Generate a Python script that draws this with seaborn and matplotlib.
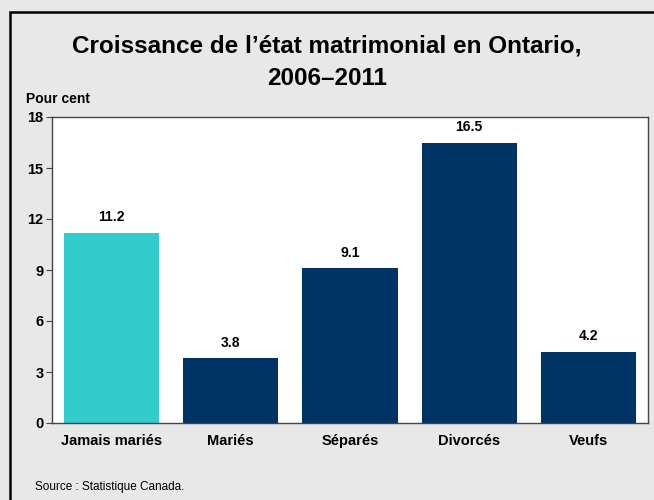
import matplotlib
matplotlib.use("Agg")
import matplotlib.pyplot as plt
import seaborn as sns
import pandas as pd
from matplotlib.patches import Rectangle

categories = ["Jamais mariés", "Mariés", "Séparés", "Divorcés", "Veufs"]
values = [11.2, 3.8, 9.1, 16.5, 4.2]
bar_colors = ["#33CCCC", "#003366", "#003366", "#003366", "#003366"]
yticks = [0, 3, 6, 9, 12, 15, 18]

sns.set_style("white")
plt.rcParams["font.family"] = ["Liberation Sans", "DejaVu Sans"]
plt.rcParams["text.color"] = "black"
plt.rcParams["xtick.color"] = "black"
plt.rcParams["ytick.color"] = "black"

df = pd.DataFrame({"cat": categories, "val": values})

fig = plt.figure(figsize=(6.54, 5.0), dpi=100)
fig.patch.set_facecolor("#E8E8E8")
ax = fig.add_axes([52/654, 1-423/500, 596/654, 306/500])
ax.set_facecolor("white")

sns.barplot(data=df, x="cat", y="val", hue="cat", palette=bar_colors,
            width=0.8, saturation=1, legend=False, ax=ax, edgecolor="none")

ax.set_xlim(-0.5, 4.5)
ax.set_ylim(0, 18)
ax.set_yticks(yticks)
ax.set_yticklabels([str(t) for t in yticks], fontsize=10.5, fontweight="bold")
ax.set_xticks(range(len(categories)))
ax.set_xticklabels(categories, fontsize=10.5, fontweight="bold")
ax.tick_params(axis="x", length=0, pad=8)
ax.tick_params(axis="y", length=4, width=0.8, color="#444444", direction="out", pad=2, left=True)
ax.set_xlabel("")
ax.set_ylabel("")
for s in ax.spines.values():
    s.set_color("#444444")
    s.set_linewidth(1.0)

for i, v in enumerate(values):
    ax.annotate(f"{v:.1f}", (i, v), xytext=(0, 6), textcoords="offset points",
                ha="center", va="bottom", fontsize=10, fontweight="bold")

fig.text(327/654, 1-62.5/500, "Croissance de l’état matrimonial en Ontario,\n2006–2011",
         ha="center", va="center", fontsize=17.5, fontweight="bold", linespacing=1.5)
fig.text(26/654, 1-99/500, "Pour cent", ha="left", va="center", fontsize=10, fontweight="bold")
fig.text(35/654, 1-487/500, "Source : Statistique Canada.", ha="left", va="center", fontsize=8.5)

fig.patches.append(Rectangle((9.5/654, -0.1), 1.2, (1-11.5/500)+0.1, transform=fig.transFigure,
                             fill=False, edgecolor="black", linewidth=1.8, zorder=10))

fig.savefig("out.png", dpi=100, facecolor=fig.get_facecolor())
